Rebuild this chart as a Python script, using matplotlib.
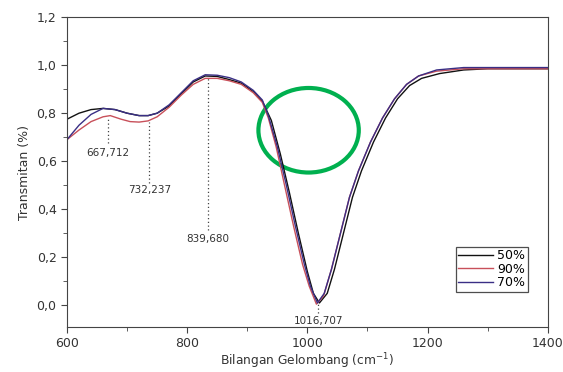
import matplotlib
matplotlib.use("Agg")
import matplotlib.pyplot as plt
from matplotlib.patches import Ellipse
from matplotlib.ticker import MultipleLocator, FuncFormatter

# Data (wavenumber cm-1, transmittance)
wn_50 = [600, 620, 640, 660, 680, 700, 720, 735, 750, 770, 790, 810, 830, 850, 870, 890,
         910, 925, 940, 955, 970, 985, 1000, 1010, 1020, 1033, 1045, 1060, 1075, 1090,
         1110, 1130, 1150, 1170, 1190, 1220, 1260, 1300, 1400]
tr_50 = [0.775, 0.80, 0.815, 0.82, 0.815, 0.80, 0.79, 0.79, 0.80, 0.83, 0.88, 0.93, 0.955,
         0.953, 0.94, 0.925, 0.89, 0.85, 0.77, 0.63, 0.47, 0.30, 0.14, 0.05, 0.01, 0.05,
         0.15, 0.30, 0.45, 0.56, 0.68, 0.78, 0.86, 0.915, 0.945, 0.965, 0.98, 0.985, 0.985]

wn_90 = [600, 620, 640, 660, 672, 690, 705, 720, 735, 750, 770, 790, 810, 830, 850, 870,
         890, 910, 925, 935, 948, 962, 977, 992, 1003, 1015, 1027, 1040, 1055, 1070, 1085,
         1105, 1125, 1145, 1165, 1185, 1215, 1260, 1400]
tr_90 = [0.69, 0.73, 0.765, 0.785, 0.79, 0.775, 0.765, 0.763, 0.768, 0.785, 0.825, 0.875,
         0.92, 0.945, 0.945, 0.935, 0.92, 0.885, 0.845, 0.78, 0.66, 0.50, 0.33, 0.17, 0.08,
         0.005, 0.04, 0.15, 0.30, 0.45, 0.56, 0.68, 0.78, 0.86, 0.92, 0.955, 0.975, 0.985, 0.985]

wn_70 = [600, 620, 640, 660, 680, 700, 720, 735, 750, 770, 790, 810, 830, 850, 870, 890,
         910, 925, 935, 950, 965, 980, 995, 1005, 1016.7, 1028, 1040, 1055, 1070, 1085,
         1105, 1125, 1145, 1165, 1185, 1215, 1260, 1400]
tr_70 = [0.69, 0.75, 0.795, 0.82, 0.815, 0.80, 0.79, 0.79, 0.80, 0.835, 0.885, 0.935, 0.96,
         0.958, 0.948, 0.93, 0.895, 0.855, 0.79, 0.66, 0.50, 0.33, 0.17, 0.08, 0.01, 0.05,
         0.15, 0.30, 0.45, 0.56, 0.68, 0.78, 0.86, 0.92, 0.955, 0.98, 0.99, 0.99]

# peak labels: x position, label, dotted line top/bottom, text y
peak_x = [667.712, 737, 835, 1018]
peak_labels = ["667,712", "732,237", "839,680", "1016,707"]
peak_top = [0.783, 0.762, 0.945, 0.01]
peak_bottom = [0.675, 0.51, 0.315, -0.03]
peak_text_y = [0.633, 0.479, 0.275, -0.067]

y_ticks = [0.0, 0.2, 0.4, 0.6, 0.8, 1.0, 1.2]
x_ticks = [600, 800, 1000, 1200, 1400]

fig = plt.figure(figsize=(5.63, 3.72), dpi=100)
ax = fig.add_axes([0.119, 0.121, 0.854, 0.833])

ax.plot(wn_50, tr_50, color="#111111", lw=1.0, label="50%")
ax.plot(wn_90, tr_90, color="#c8505a", lw=1.0, label="90%")
ax.plot(wn_70, tr_70, color="#3a2f85", lw=1.0, label="70%")

for px, lab, top, bot, ty in zip(peak_x, peak_labels, peak_top, peak_bottom, peak_text_y):
    ax.plot([px, px], [bot, top], color="#444444", lw=0.9, ls=(0, (1, 2)))
    ax.text(px, ty, lab, ha="center", va="center", fontsize=7.5, color="#333333")

# green highlight ellipse
ax.add_patch(Ellipse((1002, 0.729), 167, 0.352, fill=False, edgecolor="#00b04f", lw=3))

ax.set_xlim(600, 1400)
ax.set_ylim(-0.09, 1.2)
ax.set_xticks(x_ticks)
ax.set_yticks(y_ticks)
ax.xaxis.set_minor_locator(MultipleLocator(100))
ax.yaxis.set_minor_locator(MultipleLocator(0.1))
ax.yaxis.set_major_formatter(FuncFormatter(lambda v, p: ("%.1f" % v).replace(".", ",")))
ax.tick_params(which="both", direction="out", colors="#444444", labelcolor="#333333",
               labelsize=9)
ax.tick_params(which="major", length=4)
ax.tick_params(which="minor", length=3)
for s in ax.spines.values():
    s.set_color("#444444")

ax.set_xlabel("Bilangan Gelombang (cm$^{-1}$)", fontsize=8.8, color="#333333", labelpad=1)
ax.set_ylabel("Transmitan (%)", fontsize=9, color="#333333", labelpad=4)

leg = ax.legend(loc="lower right", bbox_to_anchor=(0.958, 0.113), fontsize=9,
                frameon=True, fancybox=False, handlelength=2.8, borderpad=0.2,
                labelspacing=0.05, handletextpad=0.3, borderaxespad=0)
leg.get_frame().set_edgecolor("#222222")
leg.get_frame().set_linewidth(0.9)

fig.savefig("out.png", dpi=100)
